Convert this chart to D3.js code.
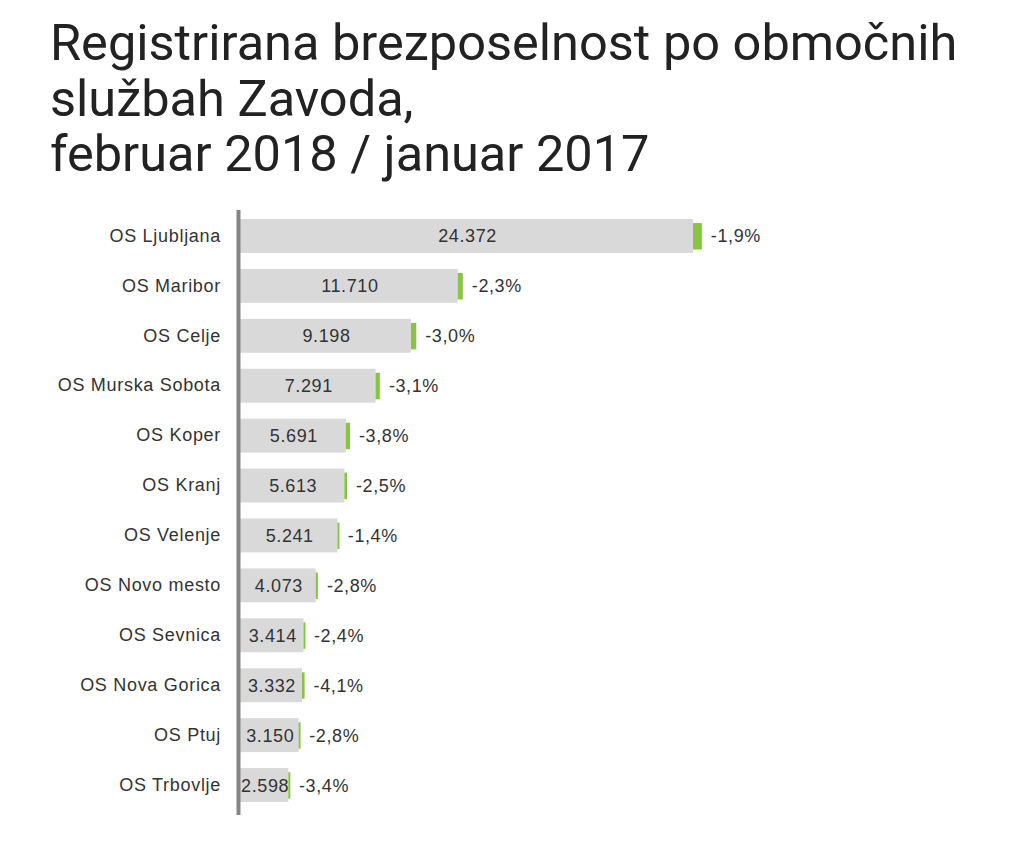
<!DOCTYPE html>
<html>
<head>
<meta charset="utf-8">
<script src="https://cdn.jsdelivr.net/npm/d3@7"></script>
<style>
  html, body { margin: 0; padding: 0; background: #fff; }
  svg { display: block; }
</style>
</head>
<body>
<script>
const titleLines = ["Registrirana brezposelnost po območnih", "službah Zavoda,", "februar 2018 / januar 2017"];
const categories = ["OS Ljubljana", "OS Maribor", "OS Celje", "OS Murska Sobota", "OS Koper", "OS Kranj", "OS Velenje", "OS Novo mesto", "OS Sevnica", "OS Nova Gorica", "OS Ptuj", "OS Trbovlje"];
const values = [24372, 11710, 9198, 7291, 5691, 5613, 5241, 4073, 3414, 3332, 3150, 2598];
const changes = [-1.9, -2.3, -3.0, -3.1, -3.8, -2.5, -1.4, -2.8, -2.4, -4.1, -2.8, -3.4];

const W = 1033, H = 841;
const svg = d3.select("body").append("svg").attr("width", W).attr("height", H);

// Title
const title = svg.append("text")
  .attr("x", 50).attr("y", 60)
  .attr("font-family", "Roboto, sans-serif")
  .attr("font-size", 50.5)
  .attr("fill", "#222");
titleLines.forEach((t, i) => {
  title.append("tspan").attr("x", 50).attr("dy", i === 0 ? 0 : 55.5).text(t);
});

const x = d3.scaleLinear().domain([0, 25000]).range([240, 240 + 25000 * 0.01859]);
const y = d3.scaleBand().domain(categories).range([211, 810]).paddingInner(0.32).paddingOuter(0.16);

const fmtNum = d3.formatLocale({decimal: ",", thousands: ".", grouping: [3], currency: ["", "€"], minus: "-"});
const fInt = fmtNum.format(",d");
const fPct = fmtNum.format(".1f");

const data = categories.map((c, i) => ({
  cat: c, value: values[i], change: changes[i],
  prev: values[i] / (1 + changes[i] / 100)
}));

const g = svg.append("g");

// bars
g.selectAll("rect.bar").data(data).join("rect")
  .attr("class", "bar")
  .attr("x", x(0))
  .attr("y", d => y(d.cat))
  .attr("width", d => x(d.value) - x(0))
  .attr("height", y.bandwidth())
  .attr("fill", "#d9d9d9");

// change markers (value -> previous value)
g.selectAll("rect.delta").data(data).join("rect")
  .attr("class", "delta")
  .attr("x", d => x(Math.min(d.value, d.prev)))
  .attr("y", d => y(d.cat) + y.bandwidth() * 0.12)
  .attr("width", d => Math.max(2, Math.abs(x(d.prev) - x(d.value))))
  .attr("height", y.bandwidth() * 0.78)
  .attr("fill", "#86c540");

// value labels
g.selectAll("text.val").data(data).join("text")
  .attr("class", "val")
  .attr("x", d => (x(0) + x(d.value)) / 2 + 1)
  .attr("y", d => y(d.cat) + y.bandwidth() / 2)
  .attr("dy", "0.36em")
  .attr("text-anchor", "middle")
  .attr("font-family", "'Liberation Sans', Arial, sans-serif")
  .attr("font-size", 18)
  .attr("letter-spacing", "0.6px")
  .attr("fill", "#333")
  .text(d => fInt(d.value));

// percent labels
g.selectAll("text.pct").data(data).join("text")
  .attr("class", "pct")
  .attr("x", d => Math.max(x(d.value), x(d.prev)) + 9)
  .attr("y", d => y(d.cat) + y.bandwidth() / 2)
  .attr("dy", "0.36em")
  .attr("font-family", "'Liberation Sans', Arial, sans-serif")
  .attr("font-size", 18)
  .attr("letter-spacing", "0.6px")
  .attr("fill", "#333")
  .text(d => fPct(d.change) + "%");

// category labels via axis
const yAxis = d3.axisLeft(y).tickSize(0).tickPadding(0);
const ax = svg.append("g").attr("transform", "translate(221,0)").call(yAxis);
ax.select(".domain").remove();
ax.selectAll("text")
  .attr("font-family", "'Liberation Sans', Arial, sans-serif")
  .attr("font-size", 18)
  .attr("letter-spacing", "0.7px")
  .attr("fill", "#333");

// vertical axis line
svg.append("line")
  .attr("x1", 238.5).attr("x2", 238.5)
  .attr("y1", 210).attr("y2", 815)
  .attr("stroke", "#858585").attr("stroke-width", 4);
</script>
</body>
</html>
